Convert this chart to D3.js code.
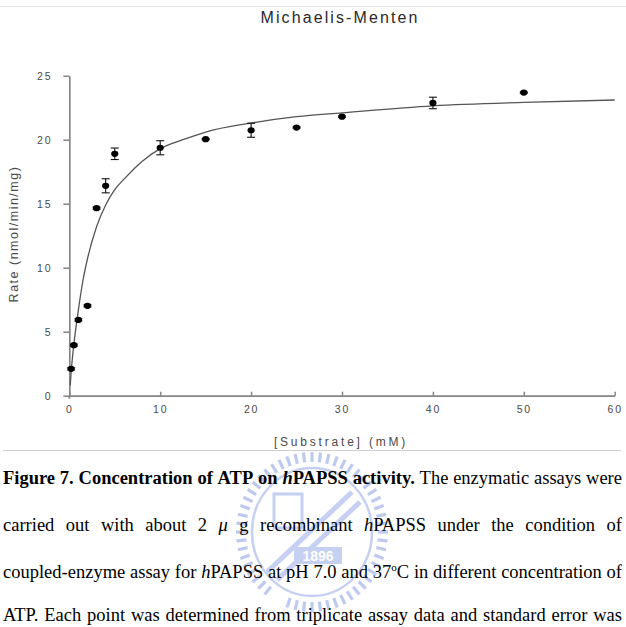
<!DOCTYPE html>
<html>
<head>
<meta charset="utf-8">
<script src="https://cdn.jsdelivr.net/npm/d3@7/dist/d3.min.js"></script>
<style>
  html, body { margin: 0; padding: 0; background: #fff; }
  svg { display: block; }
</style>
</head>
<body>
<div id="chart"></div>
<script>
// ---------- data ----------
const substrate = [0.2, 0.5, 1, 2, 3, 4, 5, 10, 15, 20, 25, 30, 40, 50];
const rate      = [2.1, 3.95, 5.92, 7.02, 14.65, 16.4, 18.9, 19.37, 20.04, 20.74, 20.95, 21.8, 22.87, 23.68];
const rateErr   = [0.08, 0.08, 0.08, 0.08, 0.08, 0.55, 0.45, 0.55, 0.05, 0.55, 0.05, 0.05, 0.45, 0.05];

// fitted Michaelis-Menten curve
const curveS = [0.1, 0.2, 0.5, 1, 1.5, 2, 3, 4, 5, 6, 8, 10, 12.5, 15, 20, 25, 30, 40, 50, 60];
const curveV = [0.8, 1.8, 4.0, 6.7, 9.0, 10.7, 13.2, 14.9, 16.1, 16.9, 18.3, 19.3, 20.0, 20.6, 21.3, 21.8, 22.1, 22.65, 22.92, 23.1];

const xTicks = [0, 10, 20, 30, 40, 50, 60];
const yTicks = [0, 5, 10, 15, 20, 25];

const chartTitle = "Michaelis-Menten";
const xTitle = "[Substrate] (mM)";
const yTitle = "Rate (nmol/min/mg)";

// caption lines: each word is a list of [text, style] pieces
const captionLines = [
  [[["Figure","b"]],[["7.","b"]],[["Concentration","b"]],[["of","b"]],[["ATP","b"]],[["on","b"]],
   [["h","bi"],["PAPSS","b"]],[["activity.","b"]],[["The",""]],[["enzymatic",""]],[["assays",""]],[["were",""]]],
  [[["carried",""]],[["out",""]],[["with",""]],[["about",""]],[["2",""]],[["μ","i"]],[["g",""]],
   [["recombinant",""]],[["h","i"],["PAPSS",""]],[["under",""]],[["the",""]],[["condition",""]],[["of",""]]],
  [[["coupled-enzyme",""]],[["assay",""]],[["for",""]],[["h","i"],["PAPSS",""]],[["at",""]],[["pH",""]],
   [["7.0",""]],[["and",""]],[["37",""],["o","sup"],["C",""]],[["in",""]],[["different",""]],
   [["concentration",""]],[["of",""]]],
  [[["ATP.",""]],[["Each",""]],[["point",""]],[["was",""]],[["determined",""]],[["from",""]],
   [["triplicate",""]],[["assay",""]],[["data",""]],[["and",""]],[["standard",""]],[["error",""]],[["was",""]]]
];

// ---------- drawing ----------
const W = 626, H = 627;
const svg = d3.select("#chart").append("svg").attr("width", W).attr("height", H);
svg.append("rect").attr("width", W).attr("height", H).attr("fill", "#fff");

// page rules
svg.append("line").attr("x1", 0).attr("x2", W).attr("y1", 6.5).attr("y2", 6.5)
  .attr("stroke", "#e6e6e6").attr("stroke-width", 1);
svg.append("line").attr("x1", 3).attr("x2", 621).attr("y1", 450.5).attr("y2", 450.5)
  .attr("stroke", "#cfcfcf").attr("stroke-width", 1);

// watermark (university logo, light)
const wm = svg.append("g").attr("transform", "translate(312,532)").attr("opacity", 0.5);
const nDash = 56;
for (let i = 0; i < nDash; i++) {
  const a = (i / nDash) * 2 * Math.PI;
  if (a > Math.PI * 0.62 && a < Math.PI * 0.68) continue;
  wm.append("line")
    .attr("x1", Math.cos(a) * 66).attr("y1", Math.sin(a) * 70)
    .attr("x2", Math.cos(a) * 76).attr("y2", Math.sin(a) * 80)
    .attr("stroke", "#7f95e0").attr("stroke-width", 3.2);
}
wm.append("ellipse").attr("rx", 60).attr("ry", 64).attr("fill", "none")
  .attr("stroke", "#8ea2e6").attr("stroke-width", 2.5);
wm.append("rect").attr("x", -38).attr("y", -38).attr("width", 28).attr("height", 34)
  .attr("fill", "none").attr("stroke", "#8ea2e6").attr("stroke-width", 3);
wm.append("path").attr("d", "M-45,40 L40,-40 M-35,48 L48,-30")
  .attr("stroke", "#8ea2e6").attr("stroke-width", 5).attr("fill", "none");
wm.append("rect").attr("x", -18).attr("y", 15).attr("width", 48).attr("height", 17)
  .attr("fill", "#8ea2e6");
wm.append("text").attr("x", 6).attr("y", 28.5).attr("text-anchor", "middle")
  .attr("font-family", "Liberation Sans, Arial, sans-serif").attr("font-size", 14)
  .attr("font-weight", "bold").attr("fill", "#fff").text("1896");

// scales
const x = d3.scaleLinear().domain([0, 60]).range([69.3, 614.7]);
const y = d3.scaleLinear().domain([0, 25]).range([395.7, 75.7]);

const sans = "Liberation Sans, Arial, Helvetica, sans-serif";
const axisColor = "#858585";
const textColor = "#4a4a4a";

// axes
const yAxis = d3.axisLeft(y).tickValues(yTicks).tickSize(6).tickSizeOuter(0).tickPadding(11);
const gy = svg.append("g").attr("transform", `translate(${x(0)},0)`).call(yAxis);
const xAxis = d3.axisBottom(x).tickValues(xTicks).tickSize(-4).tickSizeOuter(0).tickPadding(14);
const gx = svg.append("g").attr("transform", `translate(0,${y(0)})`).call(xAxis);

[gx, gy].forEach(g => {
  g.select(".domain").attr("stroke", axisColor).attr("stroke-width", 1.7);
  g.selectAll(".tick line").attr("stroke", axisColor).attr("stroke-width", 1.5);
  g.selectAll(".tick text")
    .attr("font-family", sans).attr("font-size", 10.5)
    .attr("letter-spacing", "1.8px").attr("fill", textColor);
});
gx.selectAll(".tick text").attr("dy", "0.3em");

// y axis extends slightly below x axis at origin
svg.append("line").attr("x1", x(0)).attr("x2", x(0)).attr("y1", y(0)).attr("y2", y(0) + 3)
  .attr("stroke", axisColor).attr("stroke-width", 1.7);

// fitted curve
const line = d3.line().x((d, i) => x(curveS[i])).y((d, i) => y(curveV[i])).curve(d3.curveMonotoneX);
svg.append("path").datum(curveV).attr("d", line)
  .attr("fill", "none").attr("stroke", "#555").attr("stroke-width", 1.3);

// error bars
const pts = substrate.map((s, i) => ({ s, v: rate[i], e: rateErr[i] }));
const eb = svg.append("g").attr("stroke", "#111").attr("stroke-width", 1.1);
pts.forEach(p => {
  eb.append("line").attr("x1", x(p.s)).attr("x2", x(p.s)).attr("y1", y(p.v - p.e)).attr("y2", y(p.v + p.e));
  [p.v - p.e, p.v + p.e].forEach(v => {
    eb.append("line").attr("x1", x(p.s) - 4).attr("x2", x(p.s) + 4).attr("y1", y(v)).attr("y2", y(v));
  });
});

// points
svg.append("g").selectAll("ellipse").data(pts).join("ellipse")
  .attr("cx", d => x(d.s)).attr("cy", d => y(d.v))
  .attr("rx", 3.6).attr("ry", 3.1).attr("fill", "#000");

// titles
svg.append("text").attr("x", 340).attr("y", 23.3).attr("text-anchor", "middle")
  .attr("font-family", sans).attr("font-size", 16).attr("letter-spacing", "2.1px")
  .attr("fill", "#2a2a2a").text(chartTitle);

svg.append("text").attr("x", 341).attr("y", 445.5).attr("text-anchor", "middle")
  .attr("font-family", sans).attr("font-size", 12).attr("letter-spacing", "2.8px")
  .attr("fill", textColor).text(xTitle);

svg.append("text").attr("transform", "translate(17.5,234) rotate(-90)").attr("text-anchor", "middle")
  .attr("font-family", sans).attr("font-size", 12.5).attr("letter-spacing", "1.5px")
  .attr("fill", textColor).text(yTitle);

// caption (justified)
const serif = "Liberation Serif, Times New Roman, serif";
const capSize = 18.5;
const left = 3, right = 622;
const baselines = [484, 531, 578, 621];
captionLines.forEach((words, li) => {
  const g = svg.append("g");
  const nodes = words.map(pieces => {
    const t = g.append("text").attr("y", baselines[li])
      .attr("font-family", serif).attr("font-size", capSize).attr("fill", "#000");
    let raised = false;
    pieces.forEach(([txt, st]) => {
      const ts = t.append("tspan").text(txt);
      if (st.includes("b")) ts.attr("font-weight", "bold");
      if (st.includes("i")) ts.attr("font-style", "italic");
      if (st === "sup") { ts.attr("font-size", capSize * 0.6).attr("dy", -7); raised = true; }
      else if (raised) { ts.attr("dy", 7); raised = false; }
    });
    return t;
  });
  const widths = nodes.map(t => t.node().getComputedTextLength());
  const total = d3.sum(widths);
  const gap = (right - left - total) / (nodes.length - 1);
  let cx = left;
  nodes.forEach((t, i) => { t.attr("x", cx); cx += widths[i] + gap; });
});
</script>
</body>
</html>
